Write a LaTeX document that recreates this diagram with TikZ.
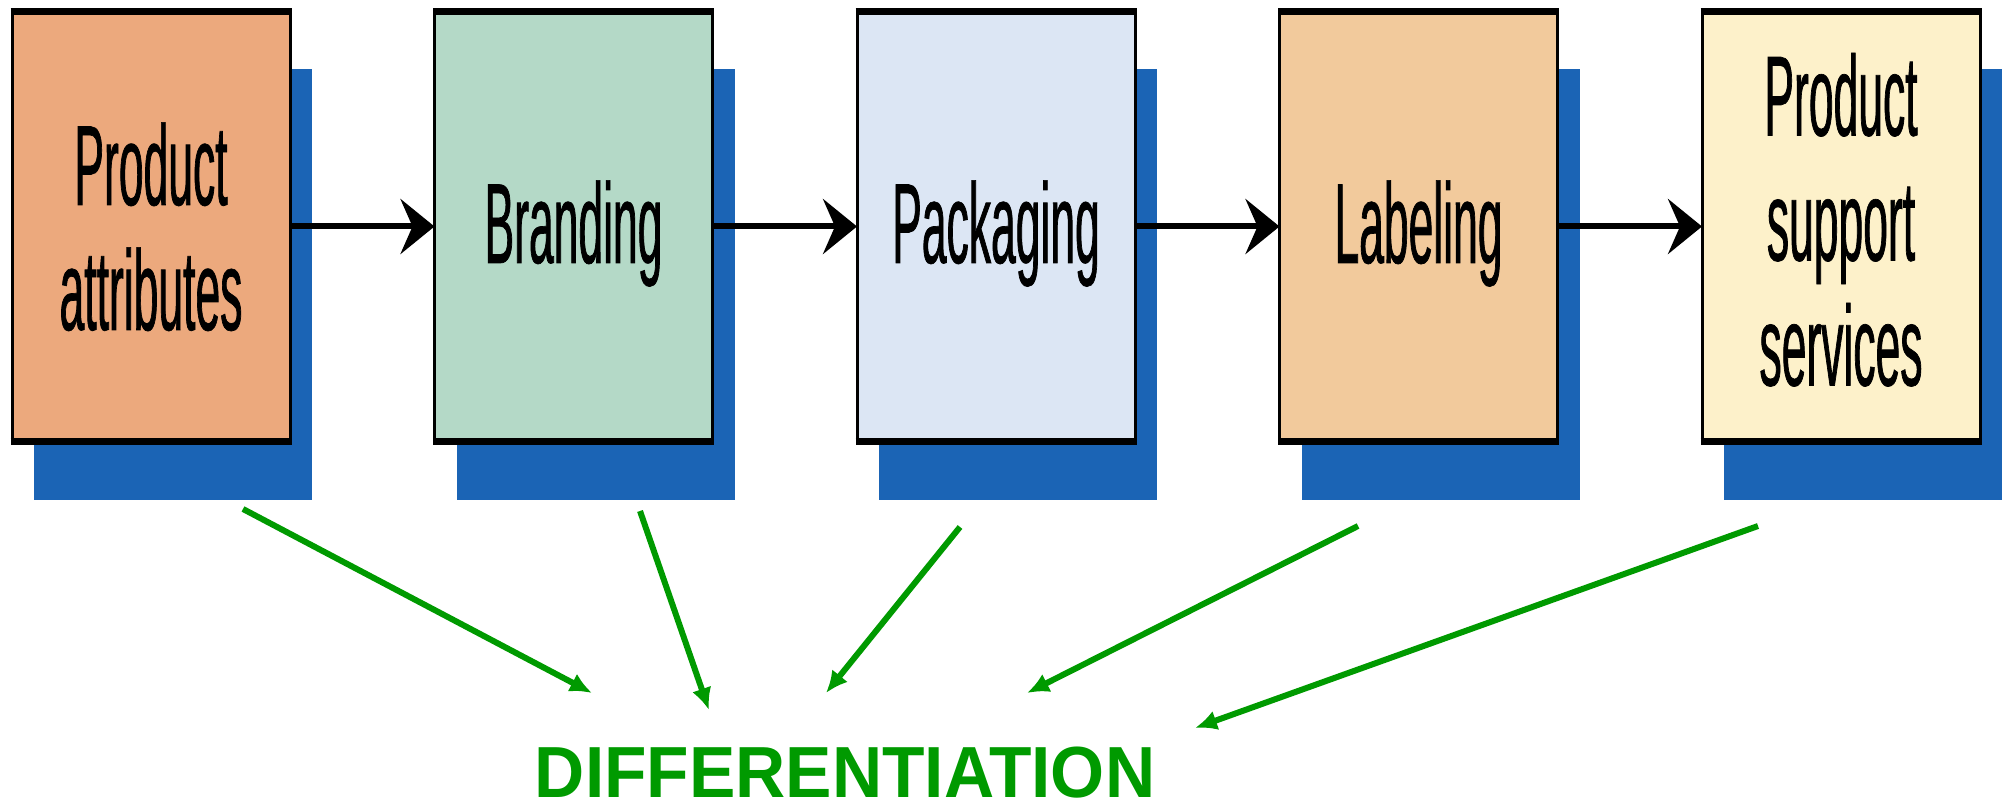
\documentclass[tikz,border=0pt]{standalone}
\usepackage{fontspec}
\setmainfont{Liberation Sans}
\newfontfamily\stagefont{Liberation Sans}[FakeStretch=0.39, FakeBold=0.6]
\usepackage{graphicx}
\usetikzlibrary{arrows.meta,shadows}

\definecolor{shadowblue}{HTML}{1B64B5}
\definecolor{attrfill}{HTML}{ECA97D}
\definecolor{brandfill}{HTML}{B4D9C7}
\definecolor{packfill}{HTML}{DCE6F4}
\definecolor{labelfill}{HTML}{F2CA9C}
\definecolor{servfill}{HTML}{FDF1CA}
\definecolor{diffgreen}{HTML}{009A00}

% tall, condensed stacked lines for the stage boxes
\newcommand{\stagetext}[1]{{\stagefont\fontsize{57pt}{62.5pt}\selectfont
  \begin{tabular}[t]{@{}c@{}}#1\end{tabular}}}

\begin{document}
\begin{tikzpicture}[x=0.5pt, y=-0.5pt,
  stagebox/.style={draw=black, line width=1.5pt, minimum width=139pt,
    minimum height=215pt, inner sep=0pt, outer sep=0pt,
    drop shadow={shadow xshift=11pt, shadow yshift=-29pt,
      fill=shadowblue, opacity=1}},
  boxlabel/.style={anchor=base, inner sep=0pt, outer sep=0pt, text=black},
  flow/.style={line width=3pt, -{Stealth[length=17pt, width=27.5pt, inset=6pt]}},
  feed/.style={draw=diffgreen, line width=3pt,
    -{Latex[length=11pt, width=10pt]}},
  rim/.style={line width=3.5pt, line cap=butt},
]
\useasboundingbox (0,0) rectangle (2002,807);
\clip (0,0) rectangle (2002,807);

% stage boxes with their drop shadows
\node[stagebox, fill=attrfill]  (b1) at (151,226.5)  {};
\node[stagebox, fill=brandfill] (b2) at (573.5,226.5) {};
\node[stagebox, fill=packfill]  (b3) at (996,226.5)  {};
\node[stagebox, fill=labelfill] (b4) at (1418.5,226.5) {};
\node[stagebox, fill=servfill]  (b5) at (1841,226.5) {};

% heavier rims along the top and bottom edges
\foreach \b in {b1,b2,b3,b4,b5}{
  \draw[rim] ([xshift=-0.75pt]\b.north west) -- ([xshift=0.75pt]\b.north east);
  \draw[rim] ([xshift=-0.75pt]\b.south west) -- ([xshift=0.75pt]\b.south east);
}

% stage names
\node[boxlabel] (t1) at ([yshift=10.75pt]b1.center)  {\stagetext{Product\\attributes}};
\node[boxlabel] (t2) at ([yshift=-18.25pt]b2.center) {\stagetext{Branding}};
\node[boxlabel] (t3) at ([yshift=-18.25pt]b3.center) {\stagetext{Packaging}};
\node[boxlabel] (t4) at ([yshift=-18.25pt]b4.center) {\stagetext{Labeling}};
\node[boxlabel] (t5) at ([yshift=45.5pt]b5.center)   {\stagetext{Product\\support\\services}};

% flow between stages
\draw[flow] (b1.east) -- (b2.west);
\draw[flow] (b2.east) -- (b3.west);
\draw[flow] (b3.east) -- (b4.west);
\draw[flow] (b4.east) -- (b5.west);

% outcome
\node[anchor=base, inner sep=0pt, text depth=0pt, text=diffgreen] (diff) at (845,797)
  {\fontsize{36.2pt}{40pt}\selectfont\bfseries\scalebox{0.96}[1]{DIFFERENTIATION}};

% each stage feeds differentiation
\coordinate (s1) at (243,509);  \coordinate (e1) at (592,693);
\coordinate (s2) at (640,511);  \coordinate (e2) at (709,710);
\coordinate (s3) at (960,527);  \coordinate (e3) at (826,693);
\coordinate (s4) at (1358,526); \coordinate (e4) at (1027,693);
\coordinate (s5) at (1758,526); \coordinate (e5) at (1195,728);
\foreach \i in {1,...,5}{
  \draw[feed] (s\i) -- (e\i);
}
\end{tikzpicture}
\end{document}
